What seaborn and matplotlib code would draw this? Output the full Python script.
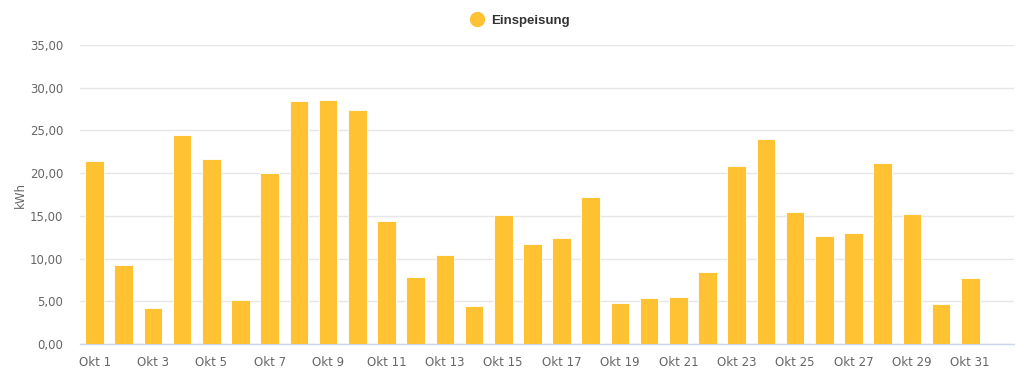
import matplotlib
matplotlib.use("Agg")
from matplotlib import pyplot as plt
from matplotlib.lines import Line2D
import seaborn as sns
import pandas as pd
import numpy as np

days = [f"Okt {d}" for d in range(1, 32)]
einspeisung = [21.4, 9.3, 4.2, 24.5, 21.6, 5.2, 20.0, 28.5, 28.6, 27.4,
               14.4, 7.8, 10.4, 4.5, 15.05, 11.65, 12.4, 17.2, 4.75, 5.4,
               5.5, 8.4, 20.8, 24.05, 15.5, 12.65, 12.95, 21.2, 15.2, 4.65, 7.75]

df = pd.DataFrame({"Tag": days, "kWh": einspeisung})

sns.set_style("white")
plt.rcParams["font.family"] = ["DejaVu Sans"]

barColor = "#ffc233"

fig = plt.figure(figsize=(10.24, 3.79), dpi=100)
ax = fig.add_axes([80 / 1024, 35 / 379, 934 / 1024, 299 / 379])

sns.barplot(data=df, x="Tag", y="kWh", color=barColor, width=0.64,
            saturation=1, edgecolor="white", linewidth=0.6, ax=ax, zorder=3)

ax.set_xlim(-0.5, 31.5)
ax.set_ylim(0, 35)
ax.set_yticks(np.arange(0, 36, 5))
ax.set_yticklabels([f"{v:.2f}".replace(".", ",") for v in np.arange(0, 36, 5)])
ax.set_xticks(range(0, 31, 2))
ax.set_xticklabels(days[::2])

ax.grid(axis="y", color="#e6e6e6", linewidth=1, zorder=0)
for s in ["top", "right", "left"]:
    ax.spines[s].set_visible(False)
ax.spines["bottom"].set_color("#ccd6eb")
ax.spines["bottom"].set_linewidth(1)

ax.tick_params(axis="x", colors="#ccd6eb", length=7, width=1, labelcolor="#666666",
               labelsize=8.5, pad=2)
ax.tick_params(axis="y", length=0, labelcolor="#666666", labelsize=8.5, pad=12)
ax.set_xlabel("")
ax.set_ylabel("kWh", color="#666666", fontsize=8.5)
ax.yaxis.set_label_coords(-0.057, 0.5)

handle = Line2D([], [], marker="o", linestyle="", markersize=10,
                markerfacecolor=barColor, markeredgecolor=barColor)
fig.legend([handle], ["Einspeisung"], loc="center", bbox_to_anchor=(517 / 1024, 1 - 21 / 379),
           frameon=False, handletextpad=0.1,
           prop={"family": "Liberation Sans", "weight": "bold", "size": 9.5}, labelcolor="#333333")

fig.savefig("out.png", dpi=100)
